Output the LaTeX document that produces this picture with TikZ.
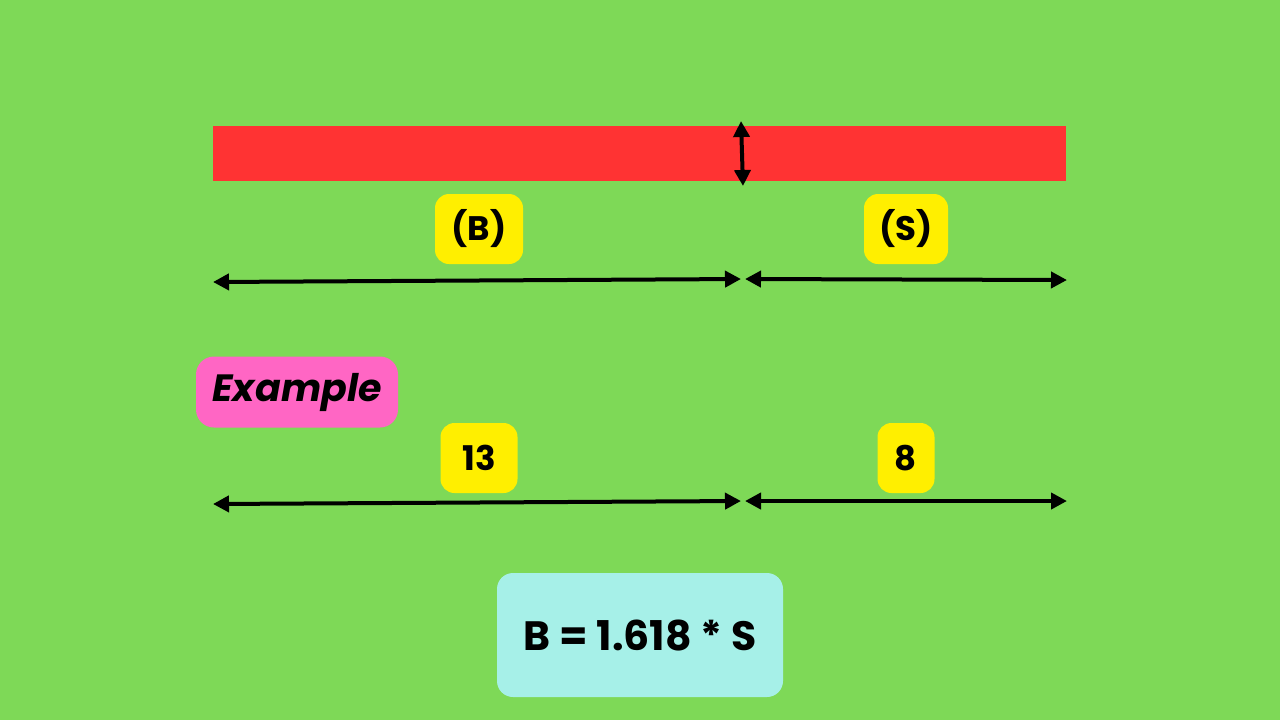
\documentclass[tikz,border=0pt]{standalone}
\usepackage{fontspec}
\setmainfont{Poppins}
\usepackage{tikz}
\usetikzlibrary{arrows.meta}
\definecolor{bggreen}{HTML}{7ED957}
\definecolor{barred}{HTML}{FF3333}
\definecolor{tagyellow}{HTML}{FFEF00}
\definecolor{tagpink}{HTML}{FF66C4}
\definecolor{formcyan}{HTML}{A6F0E8}
\tikzset{
  tag/.style={fill=tagyellow, rounded corners=7pt, font=\bfseries\fontsize{17}{20}\selectfont, inner sep=0pt, minimum height=35pt},
  dimline/.style={line width=2pt, {Triangle[length=8pt,width=8pt]}-{Triangle[length=8pt,width=8pt]}},
}
\begin{document}
\begin{tikzpicture}[x=0.5pt,y=-0.5pt]
		\fill[bggreen] (0,0) rectangle (1280,720);
		\useasboundingbox (0,0) rectangle (1280,720);
		% bar
		\fill[barred] (213,126) rectangle (1066,181);
		\coordinate (cuttop) at (741,121);
		\coordinate (cutbot) at (743,186);
		\draw[dimline] (cuttop) -- (cutbot);
		% labels
		\node[tag, minimum width=44pt] (big) at (479,229) {(B)};
		\node[tag, minimum width=42pt] (small) at (906,229) {(S)};
		\coordinate (l1a) at (213,282);\coordinate (l1b) at (741,279);
		\coordinate (l1c) at (745,279);\coordinate (l1d) at (1067,280);
		\draw[dimline] (l1a) -- (l1b);
		\draw[dimline] (l1c) -- (l1d);
		% example
		\node[fill=tagpink, rounded corners=9pt, minimum width=101pt, minimum height=35.5pt, inner sep=0pt, font=\bfseries\itshape\fontsize{19}{22}\selectfont] (ex) at (297,392) {Example};
		\node[tag, minimum width=38.5pt] (thirteen) at (479,458) {13};
		\node[tag, minimum width=28.5pt] (eight) at (906,458) {8};
		\coordinate (l2a) at (213,504);\coordinate (l2b) at (741,501);
		\coordinate (l2c) at (745,501);\coordinate (l2d) at (1067,501);
		\draw[dimline] (l2a) -- (l2b);
		\draw[dimline] (l2c) -- (l2d);
		% formula
		\node[fill=formcyan, rounded corners=8pt, minimum width=143pt, minimum height=62pt, inner sep=0pt, font=\bfseries\fontsize{20.5}{24}\selectfont] (formula) at (640,635) {B = 1.618 * S};
	\end{tikzpicture}
\end{document}
